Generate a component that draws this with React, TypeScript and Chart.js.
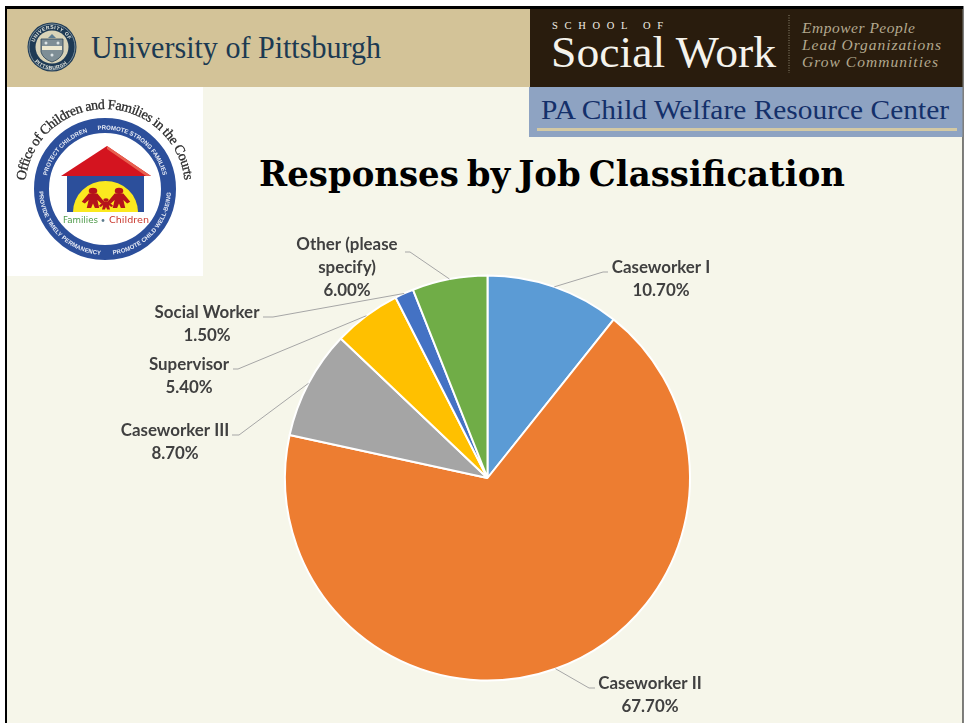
import React, { useEffect, useRef } from "react";
import { Chart, registerables } from "chart.js";

Chart.register(...registerables);

const categories = ["Caseworker I", "Caseworker II", "Caseworker III", "Supervisor", "Social Worker", "Other (please specify)"];
const shares = [10.7, 67.7, 8.7, 5.4, 1.5, 6.0];
const sliceColors = ["#5B9BD5", "#ED7D31", "#A5A5A5", "#FFC000", "#4472C4", "#70AD47"];
const labelLines = [["Caseworker I"], ["Caseworker II"], ["Caseworker III"], ["Supervisor"], ["Social Worker"], ["Other (please", "specify)"]];
// Callout placement per slice: text centre, first line's middle, leader elbow and leader end.
const calloutX = [661, 650, 175, 189, 207, 347];
const calloutY = [268, 684, 431, 365, 313, 245];
const elbowX = [603, 589, 239, 238, 273, 410];
const elbowY = [272, 688, 435, 369, 317, 252];
const tailX = [608, 595, 232, 233, 263, 405];

const SERIF = '"Liberation Serif", serif';
const BLUE = "#2C4F9B";

const polar = (cx: number, cy: number, r: number, deg: number) => {
  const a = (deg * Math.PI) / 180;
  return [cx + r * Math.sin(a), cy - r * Math.cos(a)];
};
const arcPath = (cx: number, cy: number, r: number, from: number, to: number) => {
  const [x0, y0] = polar(cx, cy, r, from);
  const [x1, y1] = polar(cx, cy, r, to);
  const large = Math.abs(to - from) > 180 ? 1 : 0;
  return `M${x0} ${y0}A${r} ${r} 0 ${large} ${to > from ? 1 : 0} ${x1} ${y1}`;
};

function ArcText(p: { id: string; d: string; text: string; len: number; size: number; fill: string; font?: string; weight?: string; stroke?: number }) {
  return (
    <>
      <path id={p.id} d={p.d} fill="none" />
      <text fontFamily={p.font ?? '"Liberation Sans", sans-serif'} fontSize={p.size} fontWeight={p.weight ?? "bold"} fill={p.fill} stroke={p.stroke ? p.fill : "none"} strokeWidth={p.stroke ?? 0}>
        <textPath href={`#${p.id}`} textLength={p.len} lengthAdjust="spacing">{p.text}</textPath>
      </text>
    </>
  );
}

function PittSeal() {
  const cx = 52, cy = 47;
  return (
    <g style={{ filter: "blur(0.5px)" }}>
      <circle cx={cx} cy={cy} r={24.5} fill="#1E3A55" />
      <circle cx={cx} cy={cy} r={23} fill="none" stroke="#9FB0B8" strokeWidth={0.7} />
      <circle cx={cx} cy={cy} r={16.5} fill="#D9D3B8" />
      <ArcText id="seal-top" d={arcPath(cx, cy, 18, -75, 75)} text="UNIVERSITY OF" len={44} size={5} fill="#E4E6DE" />
      <ArcText id="seal-bottom" d={arcPath(cx, cy, 22.5, -130, -230)} text="PITTSBURGH" len={36} size={5} fill="#E4E6DE" />
      <path d={`M${cx - 11} ${cy - 8}H${cx + 11}V${cy + 5}Q${cx + 9} ${cy + 12} ${cx} ${cy + 15}Q${cx - 9} ${cy + 12} ${cx - 11} ${cy + 5}Z`} fill="#7E8E96" stroke="#2B4257" strokeWidth={0.8} />
      <rect x={cx - 10} y={cy - 1} width={20} height={4} fill="#EDE8CF" />
      <circle cx={cx - 6} cy={cy - 4} r={1.5} fill="#DDE4E6" />
      <circle cx={cx + 6} cy={cy - 4} r={1.5} fill="#DDE4E6" />
      <circle cx={cx} cy={cy + 8} r={1.5} fill="#DDE4E6" />
      <path d={`M${cx - 4} ${cy - 9}L${cx} ${cy - 13}L${cx + 4} ${cy - 9}Z`} fill="#5C7C92" />
    </g>
  );
}

function Figure(p: { x: number; y: number; sx: number; sy: number }) {
  return (
    <g transform={`translate(${p.x} ${p.y}) scale(${p.sx} ${p.sy})`} fill="#B5121B">
      <circle cx={0} cy={-9} r={3.4} />
      <path d="M-3.5-6H3.5L9 3 6.5 5 3.5 1 5 10H1.5L0 5-1.5 10H-5L-3.5 1-6.5 5-9 3Z" />
    </g>
  );
}

function CourtsEmblem() {
  const cx = 105, cy = 189;
  return (
    <g style={{ filter: "blur(0.35px)" }}>
      <circle cx={cx} cy={cy} r={63.5} fill="none" stroke={BLUE} strokeWidth={15} />
      <ArcText id="ring-a" d={arcPath(cx, cy, 59.5, -77, -17)} text="PROTECT CHILDREN" len={62} size={6} fill="#E9EDF6" />
      <ArcText id="ring-b" d={arcPath(cx, cy, 59.5, -7, 77)} text="PROMOTE STRONG FAMILIES" len={87} size={6} fill="#E9EDF6" />
      <ArcText id="ring-c" d={arcPath(cx, cy, 66, -92, -177)} text="PROVIDE TIMELY PERMANENCY" len={97} size={6} fill="#E9EDF6" />
      <ArcText id="ring-d" d={arcPath(cx, cy, 66, 173, 92)} text="PROMOTE CHILD WELL-BEING" len={92} size={6} fill="#E9EDF6" />
      <ArcText id="ring-outer" d={arcPath(cx, cy, 80, -84, 84)} text="Office of Children and Families in the Courts" len={234} size={14} fill="#2B2B2B" font={SERIF} weight="normal" stroke={0.3} />
      <rect x={67} y={176} width={77} height={36} fill={BLUE} />
      <path d="M73 212A32.5 31 0 0 1 138 212Z" fill="#FBE91F" />
      <path d="M107 146L151 176H61Z" fill="#D4141F" />
      <path d="M107 146L151 176H146L107 149Z" fill="#E8604F" />
      <Figure x={93} y={199} sx={1.25} sy={0.9} />
      <Figure x={119} y={199} sx={1.25} sy={0.9} />
      <Figure x={106} y={204.5} sx={0.8} sy={0.5} />
      <text x={63} y={223} fontFamily='"DejaVu Sans", sans-serif' fontSize={9} fill="#4E9A4A" textLength={35} lengthAdjust="spacingAndGlyphs">Families</text>
      <circle cx={103} cy={220.5} r={1.4} fill="#5E7D8E" />
      <text x={109} y={223} fontFamily='"DejaVu Sans", sans-serif' fontSize={9} fill="#C8352B" textLength={40} lengthAdjust="spacingAndGlyphs">Children</text>
    </g>
  );
}

function Backdrop() {
  return (
    <svg width={964} height={723} style={{ position: "absolute", left: 0, top: 0 }}>
      <rect width={964} height={723} fill="#FFFFFF" />
      <rect x={5} y={6} width={958.5} height={717} fill="#000000" />
      <rect x={7} y={9} width={955.5} height={714} fill="#F6F6EA" />
      <rect x={7} y={9} width={523} height={78} fill="#D3C398" />
      <rect x={530} y={9} width={432.5} height={78} fill="#291C0D" />
      <rect x={529} y={87} width={433.5} height={50} fill="#8EA3C2" />
      <rect x={537} y={128} width={420} height={3} fill="#D3C9A4" />
      <rect x={7} y={87} width={196} height={189} fill="#FFFFFF" />

      <PittSeal />
      <text x={91} y={58} fontFamily={SERIF} fontSize={32} fill="#1C3A52" textLength={290} lengthAdjust="spacingAndGlyphs">University of Pittsburgh</text>

      <text x={552} y={29} fontFamily={SERIF} fontSize={10.5} fill="#F2EFE6" textLength={111}>SCHOOL OF</text>
      <text x={551} y={67} fontFamily={SERIF} fontSize={44} fill="#F5F3EC" textLength={225} lengthAdjust="spacingAndGlyphs">Social Work</text>
      <line x1={789} y1={15} x2={789} y2={73} stroke="#8E8672" strokeWidth={1} strokeDasharray="1 1.5" />
      <g fontFamily={SERIF} fontStyle="italic" fontSize={15.5} fill="#B3A98F">
        <text x={802} y={33} textLength={113}>Empower People</text>
        <text x={802} y={50} textLength={139}>Lead Organizations</text>
        <text x={802} y={67} textLength={136}>Grow Communities</text>
      </g>

      <text x={541} y={119} fontFamily={SERIF} fontSize={28} fill="#14306A" textLength={408} lengthAdjust="spacingAndGlyphs">PA Child Welfare Resource Center</text>

      <CourtsEmblem />

      <text x={259} y={186} fontFamily='"DejaVu Serif", serif' fontWeight="bold" fontSize={36} wordSpacing={-4} fill="#000000" textLength={586} lengthAdjust="spacingAndGlyphs">Responses by Job Classification</text>
    </svg>
  );
}

// Draws each slice's name, percentage and elbowed leader line from the arc geometry.
const calloutPlugin = {
  id: "callouts",
  afterDatasetsDraw(chart: any) {
    const { ctx } = chart;
    chart.getDatasetMeta(0).data.forEach((arc: any, i: number) => {
      const mid = (arc.startAngle + arc.endAngle) / 2;
      const sx = arc.x + Math.cos(mid) * arc.outerRadius;
      const sy = arc.y + Math.sin(mid) * arc.outerRadius;
      ctx.save();
      ctx.strokeStyle = "#A6A6A6";
      ctx.lineWidth = 1;
      ctx.beginPath();
      ctx.moveTo(sx, sy);
      ctx.lineTo(elbowX[i], elbowY[i]);
      ctx.lineTo(tailX[i], elbowY[i]);
      ctx.stroke();
      ctx.fillStyle = "#404040";
      ctx.font = 'bold 16.9px Lato, sans-serif';
      ctx.textAlign = "center";
      ctx.textBaseline = "middle";
      const lines = [...labelLines[i], `${shares[i].toFixed(2)}%`];
      lines.forEach((t, n) => ctx.fillText(t, calloutX[i], calloutY[i] + n * 22.6));
      ctx.restore();
    });
  },
};

export default function App() {
  const ref = useRef<HTMLCanvasElement>(null);
  useEffect(() => {
    document.body.style.margin = "0";
    const chart = new Chart(ref.current!, {
      type: "pie",
      data: {
        labels: categories,
        datasets: [{ data: shares, backgroundColor: sliceColors, borderColor: "#FFFFFF", borderWidth: 2 }],
      },
      options: {
        animation: false,
        responsive: false,
        layout: { padding: { left: 284, right: 273, top: 274, bottom: 41 } },
        plugins: { legend: { display: false }, title: { display: false }, tooltip: { enabled: false } },
      },
      plugins: [calloutPlugin],
    });
    return () => chart.destroy();
  }, []);
  return (
    <div style={{ position: "relative", width: 964, height: 723, overflow: "hidden" }}>
      <Backdrop />
      <canvas ref={ref} width={964} height={723} style={{ position: "absolute", left: 0, top: 0 }} />
    </div>
  );
}
